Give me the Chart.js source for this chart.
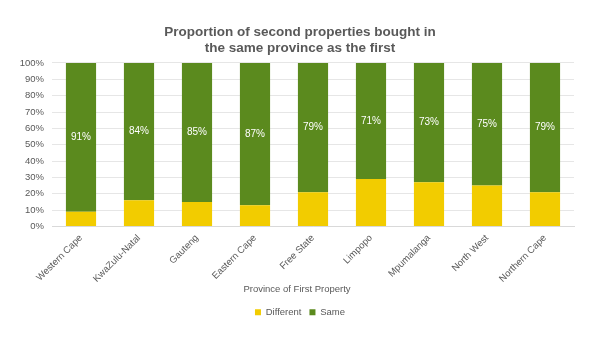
<!DOCTYPE html>
<html>
<head>
<meta charset="utf-8">
<script src="https://cdn.jsdelivr.net/npm/chart.js@4"></script>
<style>
html,body{margin:0;padding:0;background:#fff;}
#wrap{width:594px;height:338px;position:relative;}
</style>
</head>
<body>
<div id="wrap"><canvas id="c" width="594" height="338"></canvas></div>
<script>
const categories = ["Western Cape","KwaZulu-Natal","Gauteng","Eastern Cape","Free State","Limpopo","Mpumalanga","North West","Northern Cape"];
const differentValues = [9,16,15,13,21,29,27,25,21];
const sameValues = [91,84,85,87,79,71,73,75,79];
const yTickValues = [0,10,20,30,40,50,60,70,80,90,100];
const xAxisTitle = 'Province of First Property';

const FONT = '"Liberation Sans", Arial, sans-serif';

const labelPlugin = {
  id: 'segLabels',
  afterDatasetsDraw(chart) {
    const ctx = chart.ctx;
    const meta = chart.getDatasetMeta(1);
    ctx.save();
    ctx.font = '10px ' + FONT;
    ctx.fillStyle = '#ffffff';
    ctx.textAlign = 'center';
    ctx.textBaseline = 'middle';
    meta.data.forEach((bar, i) => {
      const cy = (bar.y + bar.base) / 2;
      ctx.fillText(sameValues[i] + '%', bar.x, cy);
    });
    ctx.restore();
  }
};

const axisTitlePlugin = {
  id: 'axisTitle',
  afterDraw(chart) {
    const ctx = chart.ctx;
    ctx.save();
    ctx.font = '9.5px ' + FONT;
    ctx.fillStyle = '#595959';
    ctx.textAlign = 'center';
    ctx.textBaseline = 'middle';
    ctx.fillText(xAxisTitle, chart.width / 2, chart.scales.x.bottom - 10);
    ctx.restore();
  }
};

new Chart(document.getElementById('c'), {
  type: 'bar',
  data: {
    labels: categories,
    datasets: [
      { label: 'Different', data: differentValues, backgroundColor: '#F2CC00', barPercentage: 0.52, categoryPercentage: 1.0 },
      { label: 'Same', data: sameValues, backgroundColor: '#5B8A1E', barPercentage: 0.52, categoryPercentage: 1.0 }
    ]
  },
  plugins: [labelPlugin, axisTitlePlugin],
  options: {
    responsive: false,
    animation: false,
    layout: { padding: { left: 26, right: 20, top: 6, bottom: 11 } },
    plugins: {
      title: {
        display: true,
        text: ['Proportion of second properties bought in', 'the same province as the first'],
        color: '#595959',
        font: { family: FONT, size: 13.5, weight: 'bold', lineHeight: 1.185 },
        padding: { top: 18, bottom: 7 }
      },
      legend: {
        position: 'bottom',
        labels: {
          color: '#595959',
          font: { family: FONT, size: 9.5 },
          boxWidth: 6, boxHeight: 6, padding: 8
        }
      },
      tooltip: { enabled: false }
    },
    scales: {
      x: {
        stacked: true,
        grid: { display: false, drawTicks: false },
        border: { color: '#d9d9d9' },
        ticks: {
          color: '#595959',
          font: { family: FONT, size: 9.5 },
          maxRotation: 45, minRotation: 45, padding: 6, autoSkip: false
        },
        afterFit(scale) { scale.height = 73; }
      },
      y: {
        stacked: true,
        min: 0, max: 100,
        afterBuildTicks(axis) { axis.ticks = yTickValues.map(v => ({ value: v })); },
        grid: { color: '#e6e6e6', drawTicks: false },
        border: { display: false },
        ticks: {
          color: '#595959',
          font: { family: FONT, size: 9.5 },
          padding: 8,
          autoSkip: false,
          callback: v => v + '%'
        },
        afterFit(scale) {
          scale.width = 26;
          scale._computeLabelArea = function () { return undefined; };
        }
      }
    }
  }
});
</script>
</body>
</html>
